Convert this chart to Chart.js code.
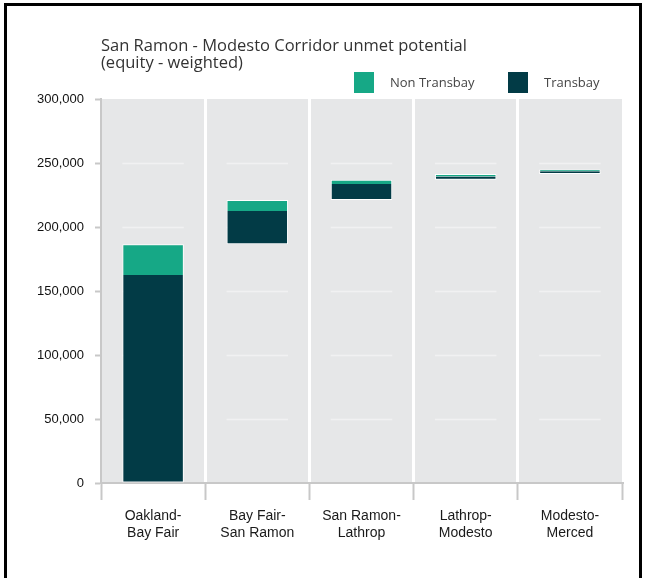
<!DOCTYPE html>
<html>
<head>
<meta charset="utf-8">
<script src="https://cdn.jsdelivr.net/npm/chart.js@4/dist/chart.umd.min.js"></script>
<style>
  html, body { margin: 0; background: #fff; }
</style>
</head>
<body>
<canvas id="chart" width="645" height="578"></canvas>
<script>
// Chart data
const categories = [
  ['Oakland-', 'Bay Fair'],
  ['Bay Fair-', 'San Ramon'],
  ['San Ramon-', 'Lathrop'],
  ['Lathrop-', 'Modesto'],
  ['Modesto-', 'Merced']
];
const transbay = [162500, 26000, 12500, 2500, 2000];
const nonTransbay = [24000, 8500, 3500, 2000, 1500];
const yTickValues = [0, 50000, 100000, 150000, 200000, 250000, 300000];
const titleLines = ['San Ramon - Modesto Corridor unmet potential', '(equity - weighted)'];

const TEAL = '#16a886';
const DARK = '#023b46';

// waterfall: each segment floats on top of the running total
const transbayRanges = [];
const nonTransbayRanges = [];
let running = 0;
for (let i = 0; i < categories.length; i++) {
  transbayRanges.push([running, running + transbay[i]]);
  running += transbay[i];
  nonTransbayRanges.push([running, running + nonTransbay[i]]);
  running += nonTransbay[i];
}

const decorations = {
  id: 'decorations',
  beforeDraw(chart) {
    const { ctx, chartArea: a } = chart;
    ctx.save();
    ctx.fillStyle = '#e6e7e8';
    ctx.fillRect(a.left, a.top, a.right - a.left, a.bottom - a.top);
    ctx.restore();
  },
  beforeDatasetsDraw(chart) {
    // short light grid segments inside each column
    const { ctx, scales } = chart;
    const bars = chart.getDatasetMeta(0).data;
    ctx.save();
    ctx.strokeStyle = '#f1f1f2';
    ctx.lineWidth = 1.5;
    yTickValues.slice(1, -1).forEach(v => {
      const y = Math.round(scales.y.getPixelForValue(v)) + 0.5;
      bars.forEach(bar => {
        ctx.beginPath();
        ctx.moveTo(bar.x - bar.width / 2, y);
        ctx.lineTo(bar.x + bar.width / 2, y);
        ctx.stroke();
      });
    });
    ctx.restore();
  },
  afterDraw(chart) {
    const { ctx } = chart;
    ctx.save();
    // title
    ctx.fillStyle = '#333';
    ctx.font = '16.5px "Open Sans"';
    ctx.textBaseline = 'alphabetic';
    ctx.fillText(titleLines[0], 101, 51);
    ctx.fillText(titleLines[1], 101, 68);

    // legend
    const legendX = [354, 508];
    ctx.font = '13px "Open Sans"';
    ctx.textBaseline = 'middle';
    chart.data.datasets.forEach((ds, i) => {
      ctx.fillStyle = ds.backgroundColor;
      ctx.fillRect(legendX[i], 72, 20, 21);
      ctx.fillStyle = '#444';
      ctx.fillText(ds.label, legendX[i] + 36, 83);
    });

    // frame lines
    ctx.fillStyle = '#000';
    ctx.fillRect(4, 3, 638, 3);
    ctx.fillRect(4, 3, 3, 575);
    ctx.fillRect(639, 3, 3, 575);
    ctx.restore();
  }
};

new Chart(document.getElementById('chart'), {
  type: 'bar',
  data: {
    labels: categories,
    datasets: [
      {
        label: 'Non Transbay',
        data: nonTransbayRanges,
        backgroundColor: TEAL,
        borderColor: '#fff',
        borderWidth: 1,
        borderSkipped: 'bottom',
        grouped: false
      },
      {
        label: 'Transbay',
        data: transbayRanges,
        backgroundColor: DARK,
        borderColor: '#fff',
        borderWidth: 1,
        borderSkipped: 'top',
        grouped: false
      }
    ]
  },
  options: {
    responsive: false,
    animation: false,
    categoryPercentage: 1,
    barPercentage: 0.59,
    layout: { padding: { top: 99, right: 23, bottom: 0, left: 0 } },
    plugins: {
      legend: { display: false },
      title: { display: false },
      tooltip: { enabled: false }
    },
    scales: {
      x: {
        offset: true,
        grid: {
          offset: true,
          color: c => (c.index === undefined || c.index === 0) ? 'rgba(0,0,0,0)' : '#ffffff',
          lineWidth: 3,
          tickColor: '#c8c8c8',
          tickWidth: 2,
          tickLength: 17
        },
        border: { color: '#c8c8c8', width: 2 },
        ticks: {
          color: '#1a1a1a',
          font: { family: '"Liberation Sans", Arial', size: 14 },
          padding: 8,
          maxRotation: 0,
          autoSkip: false
        },
        afterFit: s => { s.height = 95; }
      },
      y: {
        min: 0,
        max: 300000,
        afterBuildTicks: s => { s.ticks = yTickValues.map(v => ({ value: v })); },
        grid: {
          drawOnChartArea: false,
          tickColor: '#c8c8c8',
          tickWidth: 2,
          tickLength: 6
        },
        border: { color: '#c8c8c8', width: 2 },
        ticks: {
          color: '#111',
          font: { family: '"Liberation Sans", Arial', size: 13 },
          padding: 11,
          callback: v => v.toLocaleString('en-US')
        },
        afterFit: s => { s.width = 101; }
      }
    }
  },
  plugins: [decorations]
});
</script>
</body>
</html>
